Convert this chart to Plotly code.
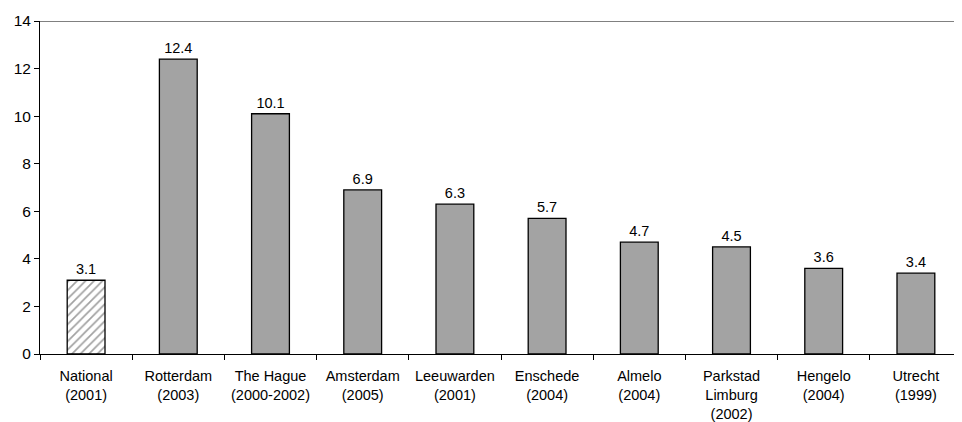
import plotly.graph_objects as go

categories = ["National<br>(2001)", "Rotterdam<br>(2003)", "The Hague<br>(2000-2002)",
              "Amsterdam<br>(2005)", "Leeuwarden<br>(2001)", "Enschede<br>(2004)",
              "Almelo<br>(2004)", "Parkstad<br>Limburg<br>(2002)", "Hengelo<br>(2004)",
              "Utrecht<br>(1999)"]
values = [3.1, 12.4, 10.1, 6.9, 6.3, 5.7, 4.7, 4.5, 3.6, 3.4]
labels = ["3.1", "12.4", "10.1", "6.9", "6.3", "5.7", "4.7", "4.5", "3.6", "3.4"]

colors = ["white"] + ["#a3a3a3"] * 9
shapes = ["/"] + [""] * 9

fig = go.Figure(go.Bar(
    x=categories, y=values, text=labels, textposition="outside",
    textfont=dict(size=14.5, color="black"),
    marker=dict(color=colors, line=dict(color="black", width=1.3),
                pattern=dict(shape=shapes, fgcolor="#b0b0b0", bgcolor="#f4f4f4", size=6, solidity=0.28)),
    width=0.41, cliponaxis=False,
))

fig.update_layout(
    width=954, height=414, margin=dict(l=32, r=0, t=13, b=68),
    plot_bgcolor="white", paper_bgcolor="white",
    font=dict(family="Liberation Sans, Arial", size=14.5, color="black"),
    showlegend=False,
    shapes=[dict(type="line", xref="paper", yref="y", x0=0, x1=1, y0=14, y1=14,
                 line=dict(color="#808080", width=2))],
)
fig.update_xaxes(showline=True, linecolor="black", linewidth=1, ticks="outside",
                 tickson="boundaries", ticklen=5, tickcolor="black", ticklabelstandoff=9,
                 tickfont=dict(size=14.5), showgrid=False, automargin=False)
fig.update_yaxes(range=[0, 14], dtick=2, showline=True, linecolor="black", linewidth=1,
                 ticks="outside", ticklen=5, tickcolor="black", showgrid=False,
                 zeroline=False, tickfont=dict(size=15.5), automargin=False)
fig.write_html("out.html")
